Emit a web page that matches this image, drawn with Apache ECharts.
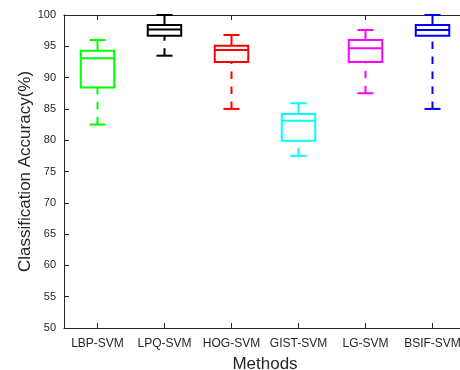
<!DOCTYPE html>
<html>
<head>
<meta charset="utf-8">
<script src="https://cdn.jsdelivr.net/npm/echarts@6/dist/echarts.min.js"></script>
<style>html,body{margin:0;padding:0;background:#fff;}#c{width:460px;height:370px;}</style>
</head>
<body>
<div id="c"></div>
<script>
const methods = ['LBP-SVM', 'LPQ-SVM', 'HOG-SVM', 'GIST-SVM', 'LG-SVM', 'BSIF-SVM'];
const lowerWhisker = [82.5, 93.5, 85.0, 77.5, 87.5, 85.0];
const q1 = [88.4, 96.7, 92.5, 79.9, 92.5, 96.7];
const median = [93.1, 97.7, 94.4, 83.1, 94.7, 97.6];
const q3 = [94.3, 98.4, 95.1, 84.2, 96.0, 98.4];
const upperWhisker = [96.0, 100.0, 96.8, 85.9, 97.6, 100.0];
const yTicks = [50, 55, 60, 65, 70, 75, 80, 85, 90, 95, 100];

const colors = ['#00ff00', '#000000', '#ff0000', '#00ffff', '#ff00ff', '#0000ff'];
const axisColor = '#262626';
const font = 'Liberation Sans, Arial, sans-serif';

const boxData = methods.map((m, k) => [k, lowerWhisker[k], q1[k], median[k], q3[k], upperWhisker[k]]);

const chart = echarts.init(document.getElementById('c'), null, {renderer: 'canvas'});
const option = {
  animation: false,
  grid: {left: 64, top: 15, width: 402, height: 313, containLabel: false, outerBoundsMode: 'none'},
  xAxis: [{
    type: 'category',
    data: methods,
    boundaryGap: true,
    axisLine: {show: true, lineStyle: {color: axisColor, width: 1}},
    axisTick: {show: true, alignWithLabel: true, inside: true, length: 5, lineStyle: {color: axisColor}},
    axisLabel: {color: axisColor, fontSize: 12, margin: 10, fontFamily: font, interval: 0, hideOverlap: false},
    splitLine: {show: false},
    name: 'Methods',
    nameLocation: 'middle',
    nameGap: 28,
    nameTextStyle: {color: axisColor, fontSize: 17, fontFamily: font}
  }, {
    type: 'category',
    data: methods,
    position: 'top',
    boundaryGap: true,
    axisLine: {show: true, lineStyle: {color: axisColor, width: 1}},
    axisTick: {show: true, alignWithLabel: true, inside: true, length: 5, lineStyle: {color: axisColor}},
    axisLabel: {show: false},
    splitLine: {show: false}
  }],
  yAxis: {
    type: 'value',
    min: 50,
    max: 100,
    interval: 5,
    axisLine: {show: true, lineStyle: {color: axisColor, width: 1}},
    axisTick: {show: true, inside: true, length: 5, lineStyle: {color: axisColor}},
    axisLabel: {color: axisColor, fontSize: 11, margin: 8, fontFamily: font,
      formatter: v => yTicks.includes(v) ? String(v) : ''},
    splitLine: {show: false},
    name: 'Classification Accuracy(%)',
    nameLocation: 'middle',
    nameGap: 30,
    nameMoveOverlap: false,
    nameTextStyle: {color: axisColor, fontSize: 17, fontFamily: font}
  },
  series: [{
    type: 'custom',
    clip: false,
    data: boxData,
    encode: {x: 0, y: [1, 2, 3, 4, 5]},
    renderItem: function (params, api) {
      const i = api.value(0);
      const lo = api.value(1), a = api.value(2), md = api.value(3), b = api.value(4), hi = api.value(5);
      const cx = api.coord([i, md])[0];
      const band = api.size([1, 0])[0];
      const bw = band * 0.5, cw = band * 0.24;
      const Y = v => api.coord([i, v])[1];
      const color = colors[params.dataIndex];
      const st = {stroke: color, lineWidth: 2, fill: null};
      const dash = {stroke: color, lineWidth: 2, fill: null, lineDash: [7.5, 7.5]};
      return {
        type: 'group',
        children: [
          {type: 'line', shape: {x1: cx, y1: Y(lo), x2: cx, y2: Y(a)}, style: dash},
          {type: 'line', shape: {x1: cx, y1: Y(b), x2: cx, y2: Y(hi)}, style: st},
          {type: 'line', shape: {x1: cx - cw / 2, y1: Y(lo), x2: cx + cw / 2, y2: Y(lo)}, style: st},
          {type: 'line', shape: {x1: cx - cw / 2, y1: Y(hi), x2: cx + cw / 2, y2: Y(hi)}, style: st},
          {type: 'rect', shape: {x: cx - bw / 2, y: Y(b), width: bw, height: Y(a) - Y(b)}, style: {stroke: color, lineWidth: 2, fill: 'rgba(0,0,0,0)'}},
          {type: 'line', shape: {x1: cx - bw / 2, y1: Y(md), x2: cx + bw / 2, y2: Y(md)}, style: st}
        ]
      };
    }
  }]
};
chart.setOption(option);
</script>
</body>
</html>
